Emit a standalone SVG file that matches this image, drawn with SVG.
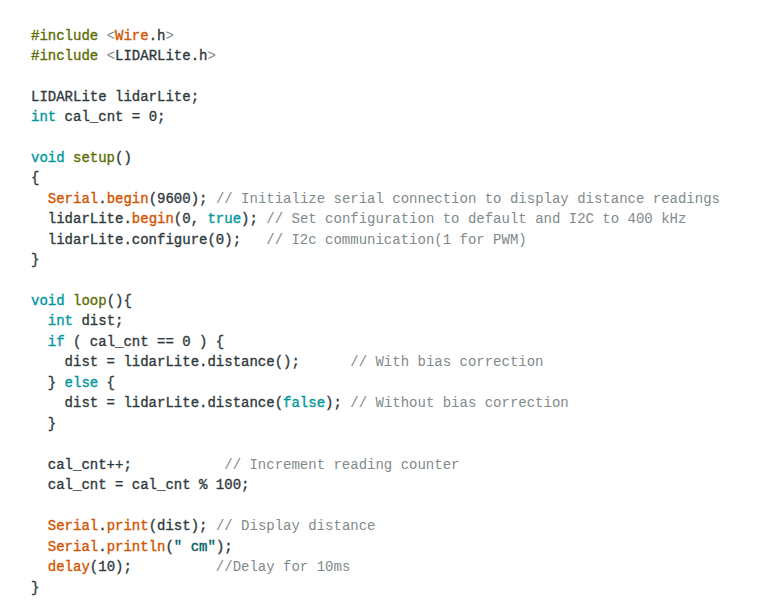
<svg xmlns="http://www.w3.org/2000/svg" width="768" height="614" viewBox="0 0 768 614">
<style>
text{font-family:"Liberation Mono","DejaVu Sans Mono",monospace;font-size:14px;font-weight:normal;fill:#2f3a3e;stroke:#2f3a3e;stroke-width:0.35;white-space:pre}
.k{fill:#00979c;stroke:#00979c}.f{fill:#d35400;stroke:#d35400}.p{fill:#5e6d03;stroke:#5e6d03}.c{fill:#7f8a8c;stroke:none}.g{fill:#7f8a8c;stroke:none}.s{fill:#005c5f;stroke:#005c5f}
</style>
<rect width="768" height="614" fill="#fff"/>
<g id="code" xml:space="preserve">
<text x="31" y="40"><tspan class="p">#include</tspan> <tspan class="g">&lt;</tspan><tspan class="f">Wire</tspan>.h<tspan class="g">&gt;</tspan></text>
<text x="31" y="60"><tspan class="p">#include</tspan> <tspan class="g">&lt;</tspan>LIDARLite.h<tspan class="g">&gt;</tspan></text>
<text x="31" y="101">LIDARLite lidarLite;</text>
<text x="31" y="121"><tspan class="k">int</tspan> cal_cnt = 0;</text>
<text x="31" y="162"><tspan class="k">void</tspan> <tspan class="p">setup</tspan>()</text>
<text x="31" y="182">{</text>
<text x="31" y="203">  <tspan class="f">Serial</tspan>.<tspan class="f">begin</tspan>(9600); <tspan class="c">// Initialize serial connection to display distance readings</tspan></text>
<text x="31" y="223">  lidarLite.<tspan class="f">begin</tspan>(0, <tspan class="k">true</tspan>); <tspan class="c">// Set configuration to default and I2C to 400 kHz</tspan></text>
<text x="31" y="244">  lidarLite.configure(0);   <tspan class="c">// I2c communication(1 for PWM)</tspan></text>
<text x="31" y="264">}</text>
<text x="31" y="305"><tspan class="k">void</tspan> <tspan class="p">loop</tspan>(){</text>
<text x="31" y="325">  <tspan class="k">int</tspan> dist;</text>
<text x="31" y="346">  <tspan class="k">if</tspan> ( cal_cnt == 0 ) {</text>
<text x="31" y="366">    dist = lidarLite.distance();      <tspan class="c">// With bias correction</tspan></text>
<text x="31" y="387">  } <tspan class="k">else</tspan> {</text>
<text x="31" y="407">    dist = lidarLite.distance(<tspan class="k">false</tspan>); <tspan class="c">// Without bias correction</tspan></text>
<text x="31" y="428">  }</text>
<text x="31" y="469">  cal_cnt++;           <tspan class="c">// Increment reading counter</tspan></text>
<text x="31" y="489">  cal_cnt = cal_cnt % 100;</text>
<text x="31" y="530">  <tspan class="f">Serial</tspan>.<tspan class="f">print</tspan>(dist); <tspan class="c">// Display distance</tspan></text>
<text x="31" y="551">  <tspan class="f">Serial</tspan>.<tspan class="f">println</tspan>(<tspan class="s">" cm"</tspan>);</text>
<text x="31" y="571">  <tspan class="f">delay</tspan>(10);          <tspan class="c">//Delay for 10ms</tspan></text>
<text x="31" y="592">}</text>
</g>
</svg>
